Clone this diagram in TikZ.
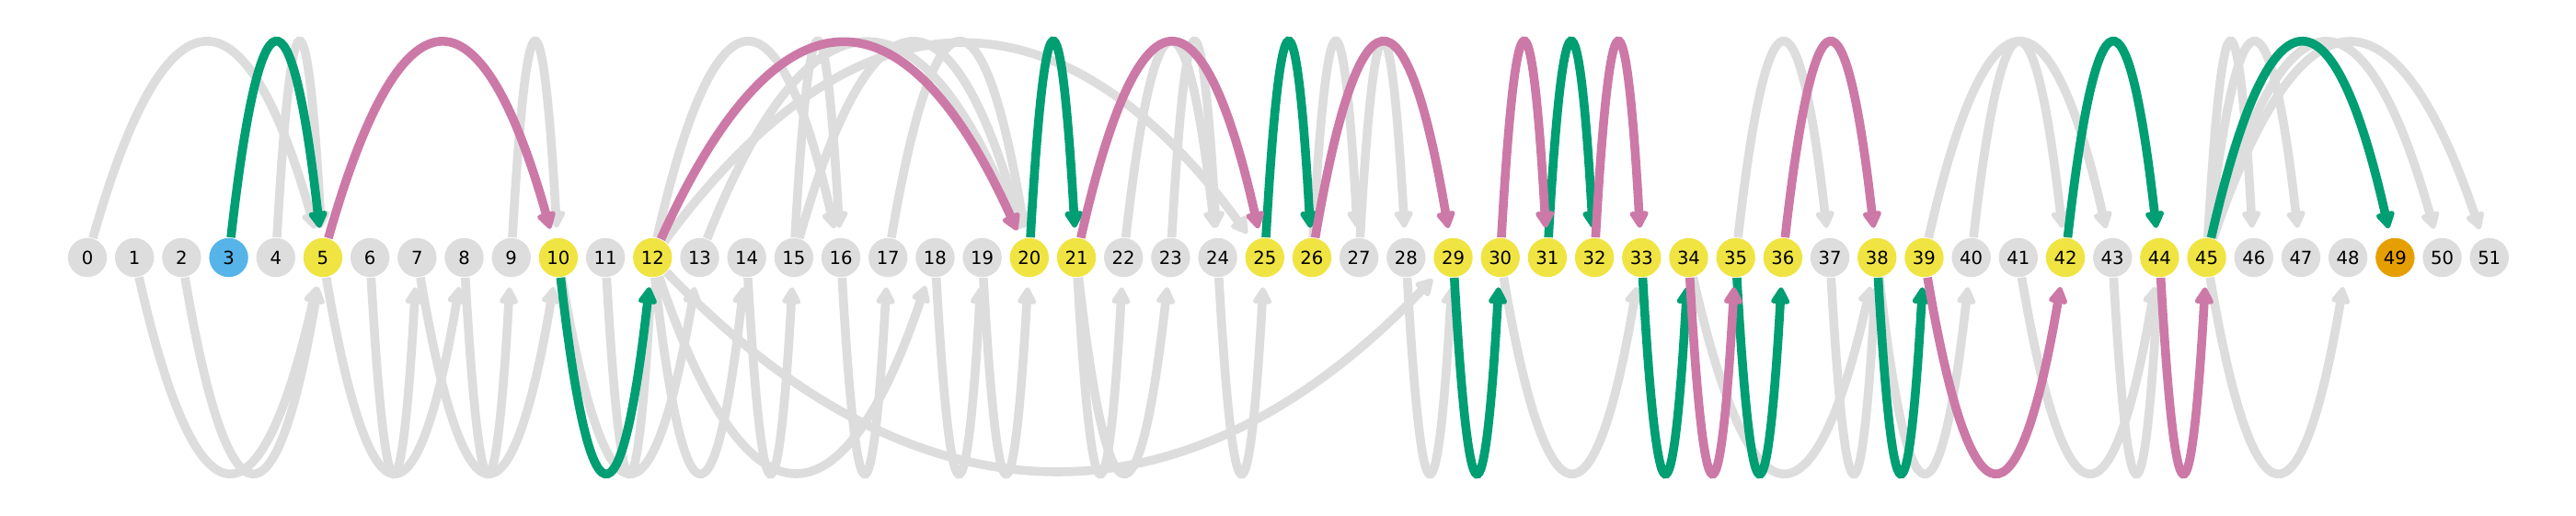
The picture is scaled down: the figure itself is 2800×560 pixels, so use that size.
\documentclass[tikz,border=0pt]{standalone}
\usepackage{fontspec}
\setmainfont{DejaVu Sans}
\usetikzlibrary{arrows.meta,calc}
\definecolor{cgray}{HTML}{DDDDDD}
\definecolor{cgreen}{HTML}{009E73}
\definecolor{cpink}{HTML}{CC79A7}
\definecolor{cblue}{HTML}{56B4E9}
\definecolor{cyellow}{HTML}{F0E442}
\definecolor{corange}{HTML}{E69F00}
\pgfdeclarelayer{bg}
\pgfsetlayers{bg,main}
\tikzset{
  vtx/.style={circle, inner sep=0pt, minimum size=10.6pt, font=\fontsize{4.9}{5}\selectfont},
  edgebase/.style={line width=2.4pt, -{Triangle[length=5.2pt,width=5.6pt,round]}, shorten >=2.6pt},
  ge/.style={edgebase, draw=cgray},
  gr/.style={edgebase, draw=cgreen},
  pk/.style={edgebase, draw=cpink},
}
\begin{document}
\begin{tikzpicture}[x=0.25pt,y=-0.25pt]
\useasboundingbox (0,0) rectangle (2800,560);
\foreach \i/\c in {0/cgray,1/cgray,2/cgray,3/cblue,4/cgray,5/cyellow,6/cgray,7/cgray,8/cgray,9/cgray,
  10/cyellow,11/cgray,12/cyellow,13/cgray,14/cgray,15/cgray,16/cgray,17/cgray,18/cgray,19/cgray,
  20/cyellow,21/cyellow,22/cgray,23/cgray,24/cgray,25/cyellow,26/cyellow,27/cgray,28/cgray,29/cyellow,
  30/cyellow,31/cyellow,32/cyellow,33/cyellow,34/cyellow,35/cyellow,36/cyellow,37/cgray,38/cyellow,39/cyellow,
  40/cgray,41/cgray,42/cyellow,43/cgray,44/cyellow,45/cyellow,46/cgray,47/cgray,48/cgray,49/corange,
  50/cgray,51/cgray}
  { \node[vtx, fill=\c] (n\i) at ({95+51.19*\i},280) {\i}; }
\begin{pgfonlayer}{bg}
\fill[white] (0,0) rectangle (2800,560);
% gray arcs above
\foreach \s/\t in {0/5,4/5,9/10,12/16,15/16,13/20,15/20,17/20,12/25,22/24,23/24,26/27,27/28,35/37,39/43,40/42,45/46,45/47,45/50,45/51}
  \draw[ge] (n\s) .. controls ($(n\s)!1/3!(n\t)+(0,-302)$) and ($(n\s)!2/3!(n\t)+(0,-302)$) .. (n\t);
% gray arcs below
\foreach \s/\t in {1/5,2/5,5/8,6/7,7/10,8/9,10/13,11/12,12/14,12/18,12/29,14/15,16/17,18/19,19/20,21/22,21/23,24/25,28/29,30/33,34/38,37/38,38/40,41/44,43/44,45/48}
  \draw[ge] (n\s) .. controls ($(n\s)!1/3!(n\t)+(0,302)$) and ($(n\s)!2/3!(n\t)+(0,302)$) .. (n\t);
% green arcs above
\foreach \s/\t in {3/5,20/21,25/26,31/32,42/44,45/49}
  \draw[gr] (n\s) .. controls ($(n\s)!1/3!(n\t)+(0,-302)$) and ($(n\s)!2/3!(n\t)+(0,-302)$) .. (n\t);
% green arcs below
\foreach \s/\t in {10/12,29/30,33/34,35/36,38/39}
  \draw[gr] (n\s) .. controls ($(n\s)!1/3!(n\t)+(0,302)$) and ($(n\s)!2/3!(n\t)+(0,302)$) .. (n\t);
% pink arcs above
\foreach \s/\t in {5/10,12/20,21/25,26/29,30/31,32/33,36/38}
  \draw[pk] (n\s) .. controls ($(n\s)!1/3!(n\t)+(0,-302)$) and ($(n\s)!2/3!(n\t)+(0,-302)$) .. (n\t);
% pink arcs below
\foreach \s/\t in {34/35,39/42,44/45}
  \draw[pk] (n\s) .. controls ($(n\s)!1/3!(n\t)+(0,302)$) and ($(n\s)!2/3!(n\t)+(0,302)$) .. (n\t);
\end{pgfonlayer}
\end{tikzpicture}
\end{document}
